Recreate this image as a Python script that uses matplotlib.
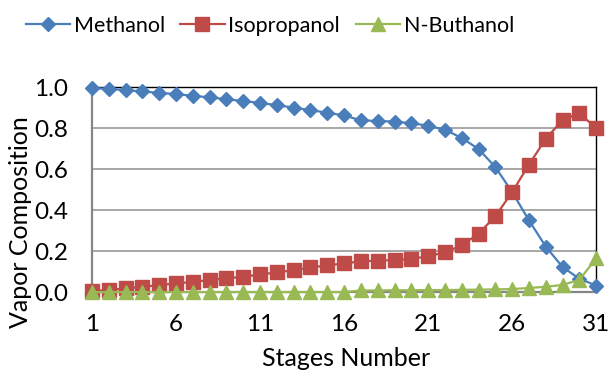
import matplotlib.pyplot as plt

plt.rcParams['font.family'] = ['Lato', 'DejaVu Sans']

# vapor composition along the column
stages = list(range(1, 32))
methanol = [0.995, 0.992, 0.985, 0.979, 0.972, 0.966, 0.958, 0.950, 0.941, 0.932,
            0.923, 0.912, 0.900, 0.888, 0.875, 0.862, 0.838, 0.835, 0.832, 0.824,
            0.812, 0.792, 0.752, 0.698, 0.610, 0.488, 0.350, 0.222, 0.122, 0.065,
            0.032]
isopropanol = [0.005, 0.010, 0.018, 0.026, 0.034, 0.042, 0.050, 0.059, 0.067, 0.075,
               0.086, 0.096, 0.107, 0.120, 0.130, 0.140, 0.150, 0.154, 0.156, 0.162,
               0.175, 0.194, 0.228, 0.285, 0.370, 0.488, 0.622, 0.748, 0.840, 0.872,
               0.800]
butanol = [0.0, 0.0, 0.0, 0.0, 0.0, 0.0, 0.0, 0.0, 0.0, 0.0,
           0.0, 0.0, 0.0, 0.0, 0.0, 0.0, 0.008, 0.008, 0.009, 0.009,
           0.010, 0.010, 0.011, 0.012, 0.013, 0.015, 0.020, 0.026, 0.035, 0.060,
           0.165]
xticks = [1, 6, 11, 16, 21, 26, 31]
yticks = [0.0, 0.2, 0.4, 0.6, 0.8, 1.0]

fig = plt.figure(figsize=(6.09, 3.74), dpi=100)
ax = fig.add_axes([0.151, 0.219, 0.828, 0.548])

ax.plot(stages, methanol, color='#4A7EBB', marker='D', markersize=7, lw=1.6,
        label='Methanol', clip_on=False, zorder=3)
ax.plot(stages, isopropanol, color='#BE4B48', marker='s', markersize=9.5, lw=1.6,
        label='Isopropanol', clip_on=False, zorder=3)
ax.plot(stages, butanol, color='#98B954', marker='^', markersize=10, lw=1.6,
        label='N-Buthanol', clip_on=False, zorder=4)

ax.set_xlim(1, 31)
ax.set_ylim(0, 1.0)
ax.set_xticks(xticks)
ax.set_yticks(yticks)
ax.set_yticklabels(['%.1f' % v for v in yticks])
ax.tick_params(length=0, labelsize=17.5)
ax.tick_params(axis='x', pad=16)
ax.tick_params(axis='y', pad=17)
ax.grid(axis='y', color='#A0A0A0', lw=1.3)
ax.set_axisbelow(True)

for s in ['left', 'bottom']:
    ax.spines[s].set_color('#868686')
    ax.spines[s].set_linewidth(1.6)
for s in ['top', 'right']:
    ax.spines[s].set_color('black')
    ax.spines[s].set_linewidth(1.0)

# axis titles
fig.text(346 / 609, 1 - 366 / 374, 'Stages Number', fontsize=18,
         ha='center', va='baseline')
fig.text(21 / 609, 1 - 222 / 374, 'Vapor Composition', fontsize=18,
         ha='center', va='center', rotation=90)

fig.legend(loc='upper center', bbox_to_anchor=(0.443, 1.01), ncol=3, frameon=False,
           fontsize=15.5, handlelength=2.05, columnspacing=0.72, handletextpad=0.18)

fig.savefig('out.png', dpi=100)
